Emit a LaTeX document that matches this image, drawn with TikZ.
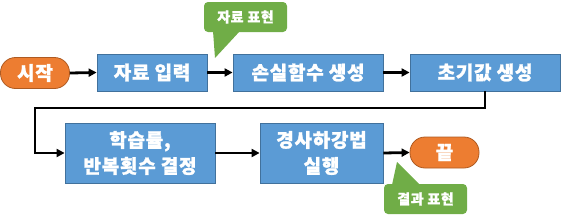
\documentclass[tikz,border=0pt]{standalone}
\usepackage{fontspec}
\setmainfont{Noto Sans CJK KR}[BoldFont={* Black},BoldFeatures={FakeBold=1.2,LetterSpace=4}]
\usetikzlibrary{arrows.meta,calc}
\definecolor{boxblue}{HTML}{5B9BD5}
\definecolor{boxblueline}{HTML}{41719C}
\definecolor{pillorange}{HTML}{ED7D31}
\definecolor{pillline}{HTML}{AE5A21}
\definecolor{callgreen}{HTML}{70AD47}
\begin{document}
\begin{tikzpicture}[x=1pt,y=-1pt,
  stepbox/.style={draw=boxblueline,fill=boxblue,line width=0.8pt,text=white,
    font=\fontsize{19}{26}\selectfont\bfseries,inner sep=0pt,align=center},
  pill/.style={draw=pillline,fill=pillorange,line width=0.8pt,text=white,
    rounded corners=15pt,font=\fontsize{19}{20}\selectfont\bfseries,inner sep=0pt},
  callout/.style={fill=callgreen,text=white,rounded corners=4pt,
    font=\fontsize{14}{15}\selectfont\bfseries,inner sep=0pt},
  arr/.style={-{Triangle[length=8pt,width=8pt]},line width=2.8pt,black}]
\useasboundingbox (0,0) rectangle (561,217);
% nodes
\node[pill,minimum width=69pt,minimum height=31pt] (start) at (35,73) {시작};
\node[stepbox,minimum width=110pt,minimum height=37pt] (input) at (152,72.5) {자료 입력};
\node[stepbox,minimum width=150pt,minimum height=37pt] (loss) at (308,72.5) {손실함수 생성};
\node[stepbox,minimum width=150pt,minimum height=37pt] (init) at (485,72.5) {초기값 생성};
\node[stepbox,minimum width=150pt,minimum height=60pt] (lr) at (140,153) {학습률,\\반복횟수 결정};
\node[stepbox,minimum width=123pt,minimum height=60pt] (gd) at (321.5,153) {경사하강법\\실행};
\node[pill,minimum width=69pt,minimum height=31pt] (end) at (444.5,152.5) {끝};
% callouts
\node[callout,minimum width=83pt,minimum height=30pt] (c1) at (245.5,17) {자료 표현};
\coordinate (c1tip) at (215,58);
\fill[callgreen] (213,31) -- (c1tip) -- (240,31) -- cycle;
\node[callout,minimum width=83pt,minimum height=30pt] (c2) at (425.5,199) {결과 표현};
\coordinate (c2tip) at (397,162);
\fill[callgreen] (392,185) -- (c2tip) -- (420,185) -- cycle;
% connectors
\draw[arr] (start.east) -- (input.west);
\draw[arr] (input.east) -- (loss.west);
\draw[arr] (loss.east) -- (init.west);
\coordinate (turn) at (35,108);
\draw[arr] (init.south) |- (turn) |- (lr.west);
\draw[arr] (lr.east) -- (gd.west);
\draw[arr] (gd.east) -- (end.west);
\end{tikzpicture}
\end{document}
